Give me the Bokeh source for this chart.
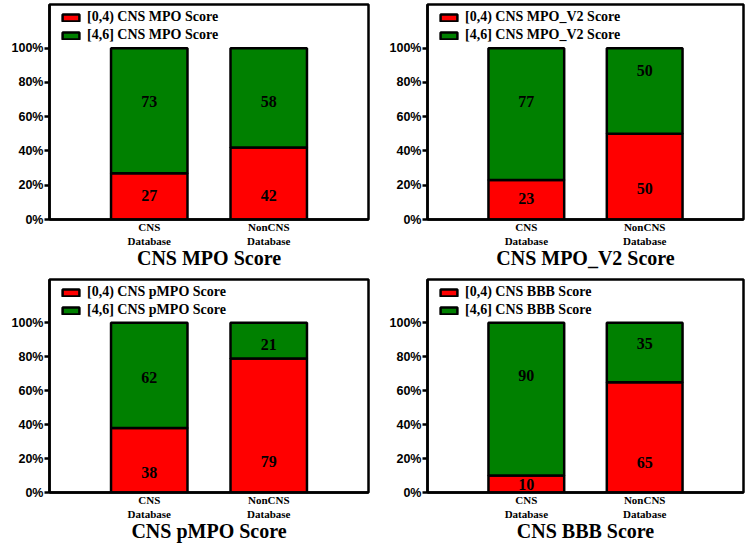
from bokeh.plotting import figure
from bokeh.models import (ColumnDataSource, FactorRange, Range1d, FixedTicker,
                          PrintfTickFormatter, Legend)
from bokeh.layouts import gridplot
from bokeh.embed import file_html
from bokeh.resources import INLINE
from bokeh.core.properties import value

# ---------------- data ----------------
categories = ["CNS\nDatabase", "NonCNS\nDatabase"]
score_names = ["CNS MPO", "CNS MPO_V2", "CNS pMPO", "CNS BBB"]

low_mpo = [27, 42]
high_mpo = [73, 58]
low_mpo_v2 = [23, 50]
high_mpo_v2 = [77, 50]
low_pmpo = [38, 79]
high_pmpo = [62, 21]
low_bbb = [10, 65]
high_bbb = [90, 35]

y_ticks = [0, 20, 40, 60, 80, 100]

# where the value labels sit (percent units, as placed in the original)
low_label_pos = [[14, 14], [12.4, 18.3], [11.8, 18.2], [4.7, 17.7]]
high_label_pos = [[69, 69], [68.8, 87], [68, 87], [68.8, 87.5]]

RED = "#ff0000"
GREEN = "#008000"
SERIF = "Liberation Serif"
SANS = "Liberation Sans"


def make_panel(name, low, high, low_pos, high_pos, left, top_row):
    if left:
        mb_left, mb_right, width = 39, 18, 378
    else:
        mb_left, mb_right, width = 38, 2, 359
    if top_row:
        mb_top, mb_bottom, height = 2, 58, 275
    else:
        mb_top, mb_bottom, height = 2, 53, 268

    p = figure(
        x_range=FactorRange(factors=categories, range_padding=0.335,
                            range_padding_units="absolute"),
        y_range=Range1d(0, 125.5),
        width=width, height=height,
        min_border_left=mb_left, min_border_right=mb_right,
        min_border_top=mb_top, min_border_bottom=mb_bottom,
        output_backend="svg", toolbar_location=None,
    )
    src = ColumnDataSource(dict(cat=categories, low=low, high=high))
    rs = p.vbar_stack(["low", "high"], x="cat", width=0.64, source=src,
                      fill_color=[RED, GREEN], line_color="black",
                      line_width=2.5)

    p.text(x=categories, y=low_pos, text=[str(v) for v in low],
           text_font=value(SERIF), text_font_style="bold",
           text_font_size="16px", text_align="center",
           text_baseline="middle", text_color="black")
    p.text(x=categories, y=high_pos, text=[str(v) for v in high],
           text_font=value(SERIF), text_font_style="bold",
           text_font_size="16px", text_align="center",
           text_baseline="middle", text_color="black")

    legend = Legend(items=[(f"[0,4) {name} Score", [rs[0]]),
                           (f"[4,6] {name} Score", [rs[1]])],
                    location=(11, (215 if top_row else 213) - 4 - 36),
                    padding=0, margin=0, spacing=0,
                    glyph_width=21, glyph_height=9, label_height=18,
                    label_standoff=6,
                    label_text_font=SERIF, label_text_font_style="bold",
                    label_text_font_size="14px", label_text_color="black",
                    background_fill_alpha=0, border_line_color=None)
    p.add_layout(legend)

    p.xgrid.grid_line_color = None
    p.ygrid.grid_line_color = None
    p.outline_line_color = "black"
    p.outline_line_width = 2.5
    p.outline_line_alpha = 1

    ya = p.yaxis[0]
    ya.ticker = FixedTicker(ticks=y_ticks)
    ya.formatter = PrintfTickFormatter(format="%d%%")
    ya.axis_line_width = 2.5
    ya.major_tick_line_width = 2.5
    ya.major_tick_out = 5
    ya.major_tick_in = 0
    ya.minor_tick_line_color = None
    ya.major_label_standoff = 1
    ya.major_label_text_font = SANS
    ya.major_label_text_font_style = "bold"
    ya.major_label_text_font_size = "12.5px"
    ya.major_label_text_color = "black"

    xa = p.xaxis[0]
    xa.axis_line_width = 2.5
    xa.major_tick_out = 0
    xa.major_tick_in = 0
    xa.major_tick_line_color = None
    xa.minor_tick_line_color = None
    xa.major_label_standoff = 1
    xa.major_label_text_font = SERIF
    xa.major_label_text_font_style = "bold"
    xa.major_label_text_font_size = "11px"
    xa.major_label_text_color = "black"
    xa.axis_label = f"{name} Score"
    xa.axis_label_standoff = -3
    xa.axis_label_text_font = SERIF
    xa.axis_label_text_font_style = "bold"
    xa.axis_label_text_font_size = "20px"
    xa.axis_label_text_color = "black"
    return p


p1 = make_panel(score_names[0], low_mpo, high_mpo, low_label_pos[0], high_label_pos[0], True, True)
p2 = make_panel(score_names[1], low_mpo_v2, high_mpo_v2, low_label_pos[1], high_label_pos[1], False, True)
p3 = make_panel(score_names[2], low_pmpo, high_pmpo, low_label_pos[2], high_label_pos[2], True, False)
p4 = make_panel(score_names[3], low_bbb, high_bbb, low_label_pos[3], high_label_pos[3], False, False)

grid = gridplot([[p1, p2], [p3, p4]], toolbar_location=None)
grid.margin = (2, 0, 0, 8)

open("out.html", "w").write(file_html(grid, INLINE))
